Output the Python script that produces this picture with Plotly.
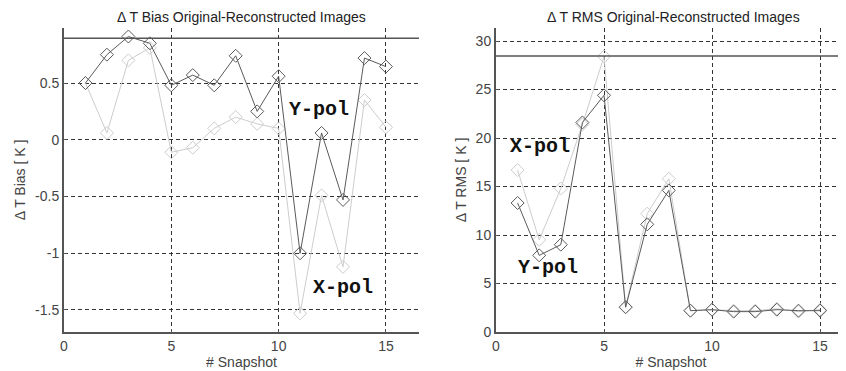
import plotly.graph_objects as go

snapshots = list(range(1, 16))

bias_y = [0.50, 0.75, 0.91, 0.85, 0.48, 0.57, 0.48, 0.74, 0.25, 0.56, -1.00, 0.06, -0.53, 0.72, 0.645]
bias_x = [0.50, 0.06, 0.70, 0.81, -0.11, -0.07, 0.10, 0.20, 0.14, 0.10, -1.53, -0.49, -1.12, 0.35, 0.11]
bias_ref = 0.895

rms_y = [13.3, 7.9, 9.0, 21.6, 24.4, 2.55, 11.1, 14.6, 2.2, 2.3, 2.1, 2.1, 2.3, 2.2, 2.2]
rms_x = [16.7, 9.5, 14.8, 21.4, 28.4, 2.6, 12.2, 15.8, 2.2, 2.3, 2.2, 2.2, 2.4, 2.1, 2.3]
rms_ref = 28.45

dark = "#5a5a5a"
light = "#cdcdcd"

fig = go.Figure()

def add_series(x, y, color, xa, ya):
    fig.add_trace(go.Scatter(
        x=x, y=y, mode="lines+markers", xaxis=xa, yaxis=ya,
        line=dict(color=color, width=1),
        marker=dict(symbol="diamond-open", size=10, color=color, line=dict(width=1, color=color)),
        showlegend=False, hoverinfo="skip"))

add_series(snapshots, bias_x, light, "x", "y")
add_series(snapshots, bias_y, dark, "x", "y")
add_series(snapshots, rms_x, light, "x2", "y2")
add_series(snapshots, rms_y, dark, "x2", "y2")

OFF = 8  # page body margin
W, H = 846 - OFF, 371 - OFF
def fx(px):
    return (px - OFF) / W
def fy(py):
    return 1 - (py - OFF) / H

tickfont = dict(family="Liberation Sans, Arial", size=14, color="#444444")
axfont = dict(family="Liberation Sans, Arial", size=14, color="#444444")
grid = dict(showgrid=True, gridcolor="#333333", griddash="4px,3px", gridwidth=1, zeroline=False,
            showline=True, linecolor="#555555", linewidth=2, ticks="inside", ticklen=3,
            tickcolor="#555555", tickfont=tickfont, automargin=False)

fig.update_layout(
    width=W, height=H, margin=dict(l=0, r=0, t=0, b=0),
    paper_bgcolor="white", plot_bgcolor="white",
    xaxis=dict(domain=[fx(64), fx(419)], range=[0, 16.54], tickvals=[0, 5, 10, 15], anchor="y",
               title=dict(text="# Snapshot", font=axfont, standoff=2),
               **grid),
    yaxis=dict(domain=[fy(332), fy(28)], range=[-1.694, 0.985], tickvals=[-1.5, -1, -0.5, 0, 0.5],
               ticktext=["-1.5", "-1", "-0.5", "0", "0.5"], anchor="x",
               title=dict(text="Δ T Bias [ K ]", font=axfont, standoff=6),
               **grid),
    xaxis2=dict(domain=[fx(496), 1.0], range=[0, 16.2], tickvals=[0, 5, 10, 15], anchor="y2",
                title=dict(text="# Snapshot", font=axfont, standoff=2),
                **grid),
    yaxis2=dict(domain=[fy(332), fy(28)], range=[0, 31.34], tickvals=[0, 5, 10, 15, 20, 25, 30], anchor="x2",
                title=dict(text="Δ T RMS [ K ]", font=axfont, standoff=6),
                **grid),
)

# reference lines
fig.add_shape(type="line", xref="x domain", yref="y", x0=0, x1=1, y0=bias_ref, y1=bias_ref,
              line=dict(color="#555555", width=1.5))
fig.add_shape(type="line", xref="x2 domain", yref="y2", x0=0, x1=1, y0=rms_ref, y1=rms_ref,
              line=dict(color="#555555", width=1.5))

# titles
titlefont = dict(family="Liberation Sans, Arial", size=14, color="#222222")
fig.add_annotation(text="Δ T Bias Original-Reconstructed Images", xref="paper", yref="paper",
                   x=fx(241), y=1.0, showarrow=False, font=titlefont, xanchor="center", yanchor="top",
                   borderpad=0)
fig.add_annotation(text="Δ T RMS Original-Reconstructed Images", xref="paper", yref="paper",
                   x=fx(673), y=1.0, showarrow=False, font=titlefont, xanchor="center", yanchor="top",
                   borderpad=0)

labfont = dict(family="Liberation Mono, Courier New", size=20, color="#111111")
fig.add_annotation(text="<b>Y-pol</b>", xref="x", yref="y", x=11.9, y=0.27, showarrow=False, font=labfont)
fig.add_annotation(text="<b>X-pol</b>", xref="x", yref="y", x=13.0, y=-1.30, showarrow=False, font=labfont)
fig.add_annotation(text="<b>X-pol</b>", xref="x2", yref="y2", x=2.05, y=19.1, showarrow=False, font=labfont)
fig.add_annotation(text="<b>Y-pol</b>", xref="x2", yref="y2", x=2.4, y=6.7, showarrow=False, font=labfont)

fig.write_html("out.html")
